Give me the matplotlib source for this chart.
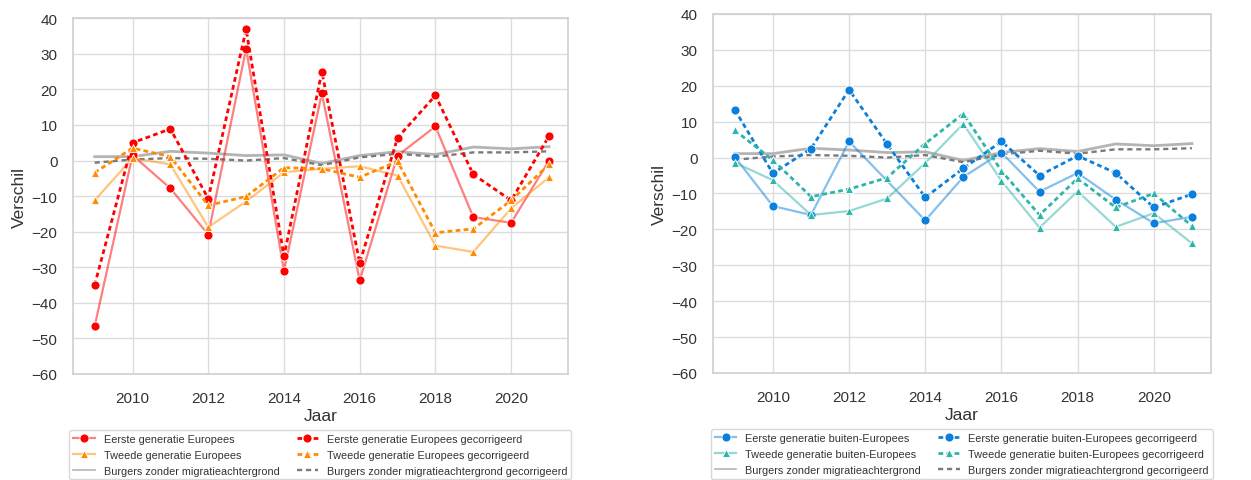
#!/usr/bin/env python3
import numpy as np
import matplotlib
matplotlib.use("Agg")
import matplotlib.pyplot as plt

plt.rcParams['font.family'] = ['Liberation Sans', 'DejaVu Sans']

years = list(range(2009, 2022))

# linker grafiek: Europees
eerste_eu = [-46.6, 1.5, -7.8, -20.8, 31.5, -31.0, 18.9, -33.7, 1.4, 9.6, -15.9, -17.5, 0.0]
eerste_eu_corr = [-35.0, 5.0, 8.9, -10.7, 36.9, -26.9, 25.0, -28.8, 6.4, 18.3, -3.9, -11.2, 6.9]
tweede_eu = [-11.2, 0.7, -1.1, -18.7, -11.5, -3.3, -2.3, -1.6, -4.2, -23.9, -25.7, -13.4, -4.7]
tweede_eu_corr = [-3.4, 3.5, 1.1, -12.6, -10.1, -2.0, -2.3, -4.7, -0.2, -20.3, -19.2, -11.2, -1.1]

# rechter grafiek: buiten-Europees (2013 ontbreekt voor eerste generatie)
eerste_be = [0.2, -13.5, -16.0, 4.5, np.nan, -17.5, -5.4, 1.4, -9.5, -4.3, -11.7, -18.3, -16.5]
eerste_be_corr = [13.3, -4.4, 2.5, 18.9, 3.7, -11.1, -3.0, 4.5, -5.0, 0.5, -4.3, -13.9, -10.2]
tweede_be = [-1.4, -6.3, -16.0, -14.9, -11.4, -1.5, 9.4, -6.5, -19.5, -9.4, -19.3, -15.5, -23.9]
tweede_be_corr = [7.6, -0.7, -10.9, -8.8, -5.6, 3.9, 12.2, -3.7, -16.0, -5.8, -13.9, -10.0, -19.1]

# burgers zonder migratieachtergrond
burgers = [1.1, 1.1, 2.6, 2.1, 1.4, 1.6, -0.8, 1.4, 2.5, 1.7, 3.8, 3.3, 3.9]
burgers_corr = [-0.6, 0.3, 0.7, 0.5, 0.0, 0.7, -1.3, 0.9, 1.9, 1.1, 2.3, 2.3, 2.6]

xticks = [2010, 2012, 2014, 2016, 2018, 2020]
yticks = list(range(-60, 41, 10))


def draw(ax, x, y, color, marker, dashed, ms):
    x = np.array(x)
    y = np.array(y, dtype=float)
    ok = ~np.isnan(y)
    rgb = matplotlib.colors.to_rgb(color)
    if dashed:
        line, = ax.plot(x[ok], y[ok], color=color, lw=2, marker=marker, ms=ms,
                        mfc=color, mec='white', mew=0.6, zorder=4)
        line.set_dashes((1.7, 1.2))
    else:
        line, = ax.plot(x[ok], y[ok], color=(*rgb, 0.5), lw=1.6, marker=marker, ms=ms,
                        mfc=color, mec='white', mew=0.6, zorder=3)
    return line


def style(ax):
    ax.set_xlim(2008.42, 2021.5)
    ax.set_ylim(-60, 40)
    ax.set_xticks(xticks)
    ax.set_yticks(yticks)
    ax.grid(True, color='#dcdcdc', lw=1)
    ax.set_axisbelow(True)
    for s in ax.spines.values():
        s.set_color('#d0d0d0')
        s.set_linewidth(1.2)
    ax.tick_params(axis='both', length=0, labelsize=11, colors='#333333')
    ax.tick_params(axis='y', pad=11)
    ax.tick_params(axis='x', pad=12.5)
    ax.set_xlabel("Jaar", fontsize=12.5, color='#333333', labelpad=2)
    ax.set_ylabel("Verschil", fontsize=12.5, color='#333333', labelpad=3)


fig = plt.figure(figsize=(12.51, 4.81), dpi=100)
ax1 = fig.add_axes([0.0581, 0.2204, 0.3959, 0.7395])
ax2 = fig.add_axes([0.5697, 0.2225, 0.3983, 0.7464])

groups = [
    (ax1, "Europees", eerste_eu, eerste_eu_corr, tweede_eu, tweede_eu_corr, '#ff0000', '#ff8c00'),
    (ax2, "buiten-Europees", eerste_be, eerste_be_corr, tweede_be, tweede_be_corr, '#0a80dc', '#2db5aa'),
]

for ax, naam, e, ec, t, tc, c1, c2 in groups:
    h1 = draw(ax, years, e, c1, 'o', False, 6.5)
    h2 = draw(ax, years, t, c2, '^', False, 5.5)
    h3, = ax.plot(years, burgers, color='#b4b4b4', lw=2, zorder=2)
    h4 = draw(ax, years, ec, c1, 'o', True, 6.5)
    h5 = draw(ax, years, tc, c2, '^', True, 5.5)
    h6, = ax.plot(years, burgers_corr, color='#7a7a7a', lw=1.7, zorder=2)
    h6.set_dashes((2.2, 1.6))
    style(ax)
    handles = [h1, h2, h3, h4, h5, h6]
    labels = [f"Eerste generatie {naam}", f"Tweede generatie {naam}",
              "Burgers zonder migratieachtergrond",
              f"Eerste generatie {naam} gecorrigeerd",
              f"Tweede generatie {naam} gecorrigeerd",
              "Burgers zonder migratieachtergrond gecorrigeerd"]
    leg = ax.legend(handles, labels, ncol=2, loc='upper center', bbox_to_anchor=(0.5, -0.142),
                    fontsize=7.8, frameon=True, fancybox=True, edgecolor='#d0d0d0',
                    handlelength=2.0, columnspacing=1.6, labelspacing=0.55,
                    borderpad=0.35, labelcolor='#333333')
    # legend handle voor gewone burgers: dunner en lichter zoals in het origineel
    leg.get_lines()[2].set_linewidth(1.2)

fig.savefig("out.png", dpi=100)
